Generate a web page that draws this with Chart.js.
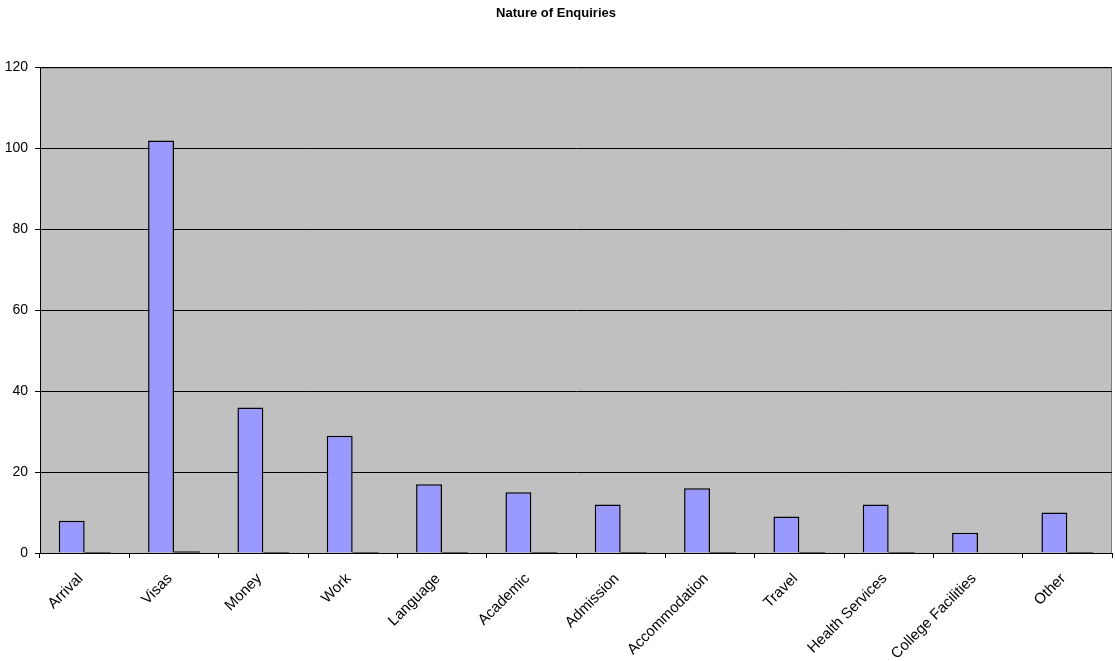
<!DOCTYPE html>
<html>
<head>
<meta charset="utf-8">
<script src="https://cdn.jsdelivr.net/npm/chart.js@4/dist/chart.umd.min.js"></script>
<style>
  html, body { margin: 0; padding: 0; background: #ffffff; }
  #wrap { width: 1115px; height: 661px; position: relative; }
</style>
</head>
<body>
<div id="wrap"><canvas id="chart"></canvas></div>
<script>
// Enquiry categories and counts
const categories = ['Arrival', 'Visas', 'Money', 'Work', 'Language', 'Academic', 'Admission',
  'Accommodation', 'Travel', 'Health Services', 'College Facilities', 'Other'];
const enquiries = [8, 102, 36, 29, 17, 15, 12, 16, 9, 12, 5, 10];
// Share of all enquiries (fraction), second series
const shares = [0.03, 0.38, 0.13, 0.11, 0.06, 0.06, 0.04, 0.06, 0.03, 0.04, null, 0.04];
const yTicks = [0, 20, 40, 60, 80, 100, 120];

const FONT = 'Arial, "Liberation Sans", sans-serif';

// Grey plot area with a thin grey frame
const plotBackground = {
  id: 'plotBackground',
  beforeDraw(chart) {
    const { ctx, chartArea: a } = chart;
    ctx.save();
    ctx.fillStyle = '#C0C0C0';
    ctx.fillRect(a.left, a.top, a.right - a.left, a.bottom - a.top);
    ctx.strokeStyle = '#808080';
    ctx.lineWidth = 1;
    ctx.strokeRect(a.left + 0.5, a.top + 0.5, a.right - a.left - 1, a.bottom - a.top);
    ctx.restore();
  }
};

new Chart(document.getElementById('chart'), {
  type: 'bar',
  data: {
    labels: categories,
    datasets: [
      {
        label: 'Enquiries',
        data: enquiries,
        backgroundColor: '#9999FF',
        borderColor: '#000000',
        borderWidth: 1.5,
        borderSkipped: 'bottom'
      },
      {
        label: 'Share',
        data: shares,
        backgroundColor: '#000000',
        borderWidth: 0,
        minBarLength: 1
      }
    ]
  },
  options: {
    responsive: true,
    maintainAspectRatio: false,
    animation: false,
    devicePixelRatio: 1,
    layout: { padding: { top: 6, right: 3, bottom: 0, left: 0 } },
    datasets: { bar: { categoryPercentage: 0.58, barPercentage: 1 } },
    plugins: {
      legend: { display: false },
      tooltip: { enabled: false },
      title: {
        display: true,
        text: 'Nature of Enquiries',
        color: '#000000',
        font: { family: FONT, size: 13, weight: 'bold' },
        padding: { top: 0, bottom: 46 }
      }
    },
    scales: {
      x: {
        offset: true,
        grid: {
          offset: true,
          drawOnChartArea: false,
          drawTicks: true,
          tickLength: 5,
          color: '#000000'
        },
        border: { display: true, color: '#000000', width: 1 },
        ticks: {
          color: '#000000',
          font: { family: FONT, size: 15 },
          minRotation: 45,
          maxRotation: 45,
          autoSkip: false,
          padding: 12,
          labelOffset: -4
        },
        afterFit(scale) { scale.height = 108; }
      },
      y: {
        min: 0,
        max: 120,
        afterBuildTicks(scale) { scale.ticks = yTicks.map(v => ({ value: v })); },
        grid: {
          color: '#000000',
          lineWidth: 1,
          drawTicks: true,
          tickLength: 5
        },
        border: { display: true, color: '#000000', width: 1 },
        ticks: {
          color: '#000000',
          font: { family: FONT, size: 14 },
          padding: 7
        },
        afterFit(scale) { scale.width = 40; }
      }
    }
  },
  plugins: [plotBackground]
});
</script>
</body>
</html>
